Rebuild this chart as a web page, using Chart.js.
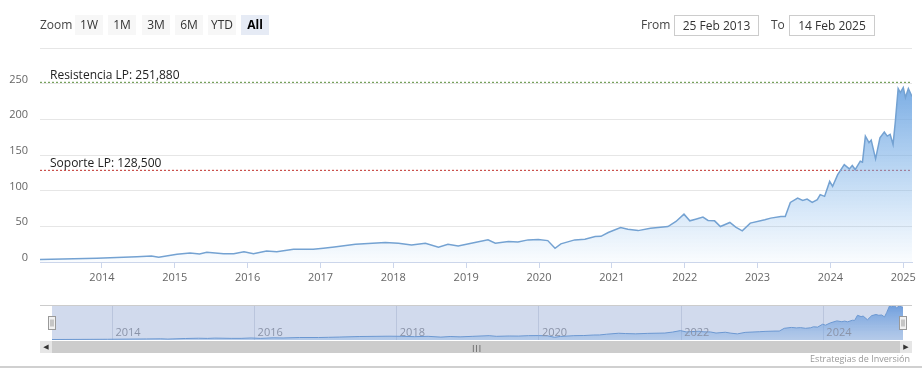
<!DOCTYPE html>
<html>
<head>
<meta charset="utf-8">
<script src="https://cdn.jsdelivr.net/npm/chart.js@4/dist/chart.umd.min.js"></script>
<style>
  html,body{margin:0;padding:0;background:#fff;}
  body{width:922px;height:384px;position:relative;overflow:hidden;font-family:"Open Sans","DejaVu Sans",sans-serif;}
  canvas{position:absolute;left:0;}
  #main{top:0;}
  #nav{top:300px;}
  .t{position:absolute;font-size:12px;color:#444;line-height:20px;}
  .btn{position:absolute;top:15px;width:28px;height:20px;background:#f7f7f7;font-size:12px;color:#333;text-align:center;line-height:20px;}
  .btn.sel{background:#e6ebf5;font-weight:bold;color:#000;}
  .box{position:absolute;top:15px;height:19px;border:1px solid #cccccc;font-size:12px;color:#333;text-align:center;line-height:19px;background:#fff;}
  .sb{position:absolute;top:341px;height:12px;}
</style>
</head>
<body>
<canvas id="main" width="922" height="292"></canvas>
<canvas id="nav" width="922" height="44"></canvas>

<div class="t" style="left:40px;top:15px;">Zoom</div>
<div class="btn" style="left:75px;">1W</div>
<div class="btn" style="left:108px;">1M</div>
<div class="btn" style="left:142px;">3M</div>
<div class="btn" style="left:175px;">6M</div>
<div class="btn" style="left:208px;">YTD</div>
<div class="btn sel" style="left:241px;">All</div>
<div class="t" style="left:641px;top:15px;">From</div>
<div class="box" style="left:674px;width:83px;">25 Feb 2013</div>
<div class="t" style="left:771px;top:15px;">To</div>
<div class="box" style="left:789px;width:84px;">14 Feb 2025</div>

<div style="position:absolute;left:40px;top:305px;width:872px;height:1px;background:#cccccc;"></div>
<div class="sb" style="left:40px;width:872px;background:#f2f2f2;"></div>
<div class="sb" style="left:40px;width:12px;background:#e6e6e6;font-size:7px;color:#333;text-align:center;line-height:12px;">&#9664;</div>
<div class="sb" style="left:52px;width:848px;background:#cccccc;font-size:8px;color:#333;text-align:center;line-height:12px;letter-spacing:-1px;">|||</div>
<div class="sb" style="left:900px;width:12px;background:#e6e6e6;font-size:7px;color:#333;text-align:center;line-height:12px;">&#9654;</div>
<div style="position:absolute;right:12px;top:353px;font-size:9px;color:#999;line-height:12px;">Estrategias de Inversión</div>
<div style="position:absolute;left:0;top:366px;width:922px;height:2px;background:#d0d0d0;"></div>

<script>
// ---- data (decimal years, values) ----
const seriesYears = [
  2013.15, 2013.93, 2014.48, 2014.68, 2014.78, 2015.03, 2015.21, 2015.34, 2015.44, 2015.67,
  2015.81, 2015.95, 2016.08, 2016.26, 2016.40, 2016.63, 2016.90, 2017.04, 2017.19, 2017.48,
  2017.89, 2018.07, 2018.25, 2018.44, 2018.62, 2018.75, 2018.89, 2019.07, 2019.30, 2019.40,
  2019.58, 2019.71, 2019.85, 2019.99, 2020.12, 2020.22, 2020.30, 2020.49, 2020.63, 2020.77,
  2020.85, 2020.95, 2021.12, 2021.22, 2021.36, 2021.53, 2021.77, 2021.88, 2021.99, 2022.07,
  2022.15, 2022.25, 2022.32, 2022.41, 2022.49, 2022.62, 2022.70, 2022.79, 2022.90, 2023.10,
  2023.18, 2023.32, 2023.38, 2023.45, 2023.55, 2023.62, 2023.68, 2023.75, 2023.82, 2023.86,
  2023.92, 2023.99, 2024.03, 2024.10, 2024.19, 2024.26, 2024.30, 2024.34, 2024.41, 2024.44,
  2024.48, 2024.53, 2024.56, 2024.62, 2024.68, 2024.74, 2024.78, 2024.82, 2024.86, 2024.89,
  2024.93, 2024.96, 2025.00, 2025.03, 2025.07, 2025.12
];
const seriesValues = [
  3.5, 5.2, 7.5, 8.5, 6.6, 10.8, 12.7, 11.3, 13.6, 11.7,
  11.7, 14.5, 11.7, 15.5, 14.5, 17.8, 17.8, 19.2, 21.0, 24.9,
  27.2, 26.3, 23.9, 26.3, 20.7, 24.9, 22.5, 26.3, 31.0, 26.3,
  28.6, 28.0, 31.0, 31.5, 30.0, 19.2, 25.4, 31.0, 32.0, 35.7,
  36.0, 41.3, 48.3, 46.0, 44.0, 47.4, 49.7, 56.8, 67.1, 57.7,
  60.0, 62.9, 58.2, 57.7, 49.7, 55.4, 48.8, 43.7, 54.5, 59.2,
  61.5, 63.8, 63.8, 83.5, 89.7, 86.4, 88.3, 83.5, 87.3, 94.4,
  92.0, 113.0, 106.0, 122.5, 136.6, 130.5, 135.2, 129.6, 141.3, 139.9,
  176.5, 167.2, 170.9, 144.6, 174.2, 182.1, 176.5, 178.9, 164.8, 195.4,
  243.2, 237.6, 244.6, 230.5, 243.0, 232.0
];
const yearTicks = [2014, 2015, 2016, 2017, 2018, 2019, 2020, 2021, 2022, 2023, 2024, 2025];
const navYearTicks = [2014, 2016, 2018, 2020, 2022, 2024];
const valueTicks = [0, 50, 100, 150, 200, 250, 300];
const resistance = 251.88;
const support = 128.5;
const resistanceLabel = 'Resistencia LP';
const supportLabel = 'Soporte LP';

const xMin = seriesYears[0];
const xMax = seriesYears[seriesYears.length - 1];
const points = seriesYears.map((x, i) => ({x: x, y: seriesValues[i]}));
const FONT = '"Open Sans","DejaVu Sans",sans-serif';
const fmt = v => v.toFixed(3).replace('.', ',');

const plotLineLabels = {
  id: 'plotLineLabels',
  afterDatasetsDraw(chart) {
    const c = chart.ctx, y = chart.scales.y, a = chart.chartArea;
    c.save();
    c.font = '12px ' + FONT;
    c.fillStyle = '#222';
    c.textBaseline = 'alphabetic';
    c.fillText(resistanceLabel + ': ' + fmt(resistance), a.left + 10, y.getPixelForValue(resistance) - 3);
    c.fillText(supportLabel + ': ' + fmt(support), a.left + 10, y.getPixelForValue(support) - 3);
    c.restore();
  }
};

new Chart(document.getElementById('main'), {
  type: 'line',
  data: {
    datasets: [
      {
        data: points,
        borderColor: 'rgb(116,162,210)',
        borderWidth: 1.5,
        pointRadius: 0,
        tension: 0,
        fill: 'origin',
        backgroundColor: (ctx) => {
          const ch = ctx.chart, a = ch.chartArea;
          if (!a) return 'rgba(124,181,236,0.3)';
          const top = ch.scales.y.getPixelForValue(Math.max(...seriesValues));
          const g = ch.ctx.createLinearGradient(0, top, 0, a.bottom);
          g.addColorStop(0, 'rgba(110,165,225,0.9)');
          g.addColorStop(1, 'rgba(124,181,236,0.04)');
          return g;
        }
      },
      {
        data: [{x: xMin, y: resistance}, {x: xMax, y: resistance}],
        borderColor: '#5b8f3a', borderWidth: 1, borderDash: [2, 2], pointRadius: 0, fill: false
      },
      {
        data: [{x: xMin, y: support}, {x: xMax, y: support}],
        borderColor: '#c0302b', borderWidth: 1, borderDash: [2, 2], pointRadius: 0, fill: false
      }
    ]
  },
  options: {
    animation: false, responsive: false, maintainAspectRatio: false,
    layout: {padding: {top: 48, right: 10, left: 0, bottom: 0}},
    plugins: {legend: {display: false}, tooltip: {enabled: false}},
    scales: {
      x: {
        type: 'linear', min: xMin, max: xMax,
        afterBuildTicks: s => { s.ticks = yearTicks.map(v => ({value: v})); },
        ticks: {callback: v => String(v), color: '#666', font: {family: FONT, size: 11}, padding: 3, maxRotation: 0, autoSkip: false},
        grid: {drawOnChartArea: false, drawTicks: true, tickLength: 6, color: '#ccd6eb'},
        border: {color: '#ccd6eb'},
        afterFit: s => { s.height = 30; }
      },
      y: {
        min: 0, max: 300,
        afterBuildTicks: s => { s.ticks = valueTicks.map(v => ({value: v})); },
        ticks: {callback: v => (v === 300 ? '' : String(v)), color: '#666', font: {family: FONT, size: 11}, padding: 12, labelOffset: -4},
        grid: {color: '#e6e6e6', drawTicks: false},
        border: {display: false},
        afterFit: s => { s.width = 40; }
      }
    }
  },
  plugins: [plotLineLabels]
});

const navExtras = {
  id: 'navExtras',
  afterDatasetsDraw(chart) {
    const c = chart.ctx, a = chart.chartArea;
    c.save();
    c.fillStyle = 'rgba(102,133,194,0.3)';
    c.fillRect(a.left, a.top, a.right - a.left, a.bottom - a.top);
    c.restore();
  },
  afterDraw(chart) {
    const c = chart.ctx, a = chart.chartArea, x = chart.scales.x;
    // year labels inside the navigator
    c.save();
    c.font = '11px ' + FONT;
    c.fillStyle = '#8a93a8';
    c.textBaseline = 'alphabetic';
    c.textAlign = 'left';
    navYearTicks.forEach(v => c.fillText(String(v), x.getPixelForValue(v) + 3, a.bottom - 4));
    c.restore();
    // handles
    const cy = (a.top + a.bottom) / 2;
    [x.getPixelForValue(xMin), x.getPixelForValue(xMax)].forEach(px => {
      c.save();
      c.fillStyle = '#f2f2f2';
      c.strokeStyle = '#999';
      c.lineWidth = 1;
      const l = Math.round(px) - 3.5, t = Math.round(cy) - 6.5;
      c.fillRect(l, t, 7, 13);
      c.strokeRect(l, t, 7, 13);
      c.beginPath();
      c.moveTo(l + 2.5, t + 3); c.lineTo(l + 2.5, t + 10);
      c.moveTo(l + 4.5, t + 3); c.lineTo(l + 4.5, t + 10);
      c.stroke();
      c.restore();
    });
  }
};

new Chart(document.getElementById('nav'), {
  type: 'line',
  data: {
    datasets: [{
      data: points,
      borderColor: 'rgb(110,160,215)',
      borderWidth: 1,
      pointRadius: 0,
      tension: 0,
      fill: 'origin',
      backgroundColor: (ctx) => {
        const ch = ctx.chart, a = ch.chartArea;
        if (!a) return 'rgba(124,181,236,0.4)';
        const g = ch.ctx.createLinearGradient(0, a.top, 0, a.bottom);
        g.addColorStop(0, 'rgba(100,160,230,0.9)');
        g.addColorStop(1, 'rgba(124,181,236,0.3)');
        return g;
      }
    }]
  },
  options: {
    animation: false, responsive: false, maintainAspectRatio: false,
    layout: {padding: {top: 5, right: 19, left: 52, bottom: 0}},
    plugins: {legend: {display: false}, tooltip: {enabled: false}},
    scales: {
      x: {
        type: 'linear', min: xMin, max: xMax, z: 1,
        afterBuildTicks: s => { s.ticks = navYearTicks.map(v => ({value: v})); },
        ticks: {display: false},
        grid: {drawOnChartArea: true, drawTicks: false, color: 'rgba(110,120,150,0.22)'},
        border: {display: false},
        afterFit: s => { s.height = 4; }
      },
      y: {display: false, min: 0, max: 250}
    }
  },
  plugins: [navExtras]
});
</script>
</body>
</html>
